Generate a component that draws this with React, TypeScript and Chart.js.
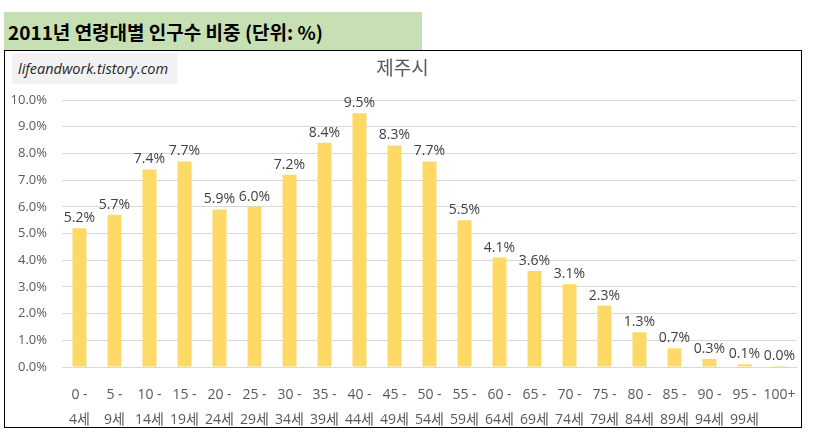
import { useEffect, useRef } from "react"
import { Chart, type ChartConfiguration, type Plugin, registerables } from "chart.js"

Chart.register(...registerables)

const ageGroups: string[][] = [
  ["0 -", "4세"], ["5 -", "9세"], ["10 -", "14세"], ["15 -", "19세"], ["20 -", "24세"],
  ["25 -", "29세"], ["30 -", "34세"], ["35 -", "39세"], ["40 -", "44세"], ["45 -", "49세"],
  ["50 -", "54세"], ["55 -", "59세"], ["60 -", "64세"], ["65 -", "69세"], ["70 -", "74세"],
  ["75 -", "79세"], ["80 -", "84세"], ["85 -", "89세"], ["90 -", "94세"], ["95 -", "99세"],
  ["100+"],
]

const shares = [5.2, 5.7, 7.4, 7.7, 5.9, 6.0, 7.2, 8.4, 9.5, 8.3, 7.7, 5.5, 4.1, 3.6, 3.1, 2.3, 1.3, 0.7, 0.3, 0.1, 0.04]

const FONT = '"Open Sans", "Noto Sans CJK KR", sans-serif'

// value labels above each bar
const barLabels: Plugin<"bar"> = {
  id: "barLabels",
  afterDatasetsDraw(chart) {
    const ctx = chart.ctx
    const meta = chart.getDatasetMeta(0)
    ctx.save()
    ctx.font = `14px ${FONT}`
    ctx.fillStyle = "#404040"
    ctx.textAlign = "center"
    ctx.textBaseline = "middle"
    meta.data.forEach((bar, i) => {
      const v = shares[i]
      ctx.fillText(v.toFixed(1) + "%", bar.x, bar.y - 10)
    })
    ctx.restore()
  },
}

function AgeChart() {
  const chartRef = useRef<HTMLCanvasElement>(null)
  const chartInstance = useRef<Chart | null>(null)

  useEffect(() => {
    if (!chartRef.current) return
    if (chartInstance.current) chartInstance.current.destroy()
    const ctx = chartRef.current.getContext("2d")
    if (!ctx) return

    const config: ChartConfiguration<"bar"> = {
      type: "bar",
      data: {
        labels: ageGroups,
        datasets: [
          {
            data: shares,
            backgroundColor: "#FFD966",
            barPercentage: 0.4,
            categoryPercentage: 1,
          },
        ],
      },
      options: {
        responsive: false,
        animation: false,
        layout: { padding: { left: 8, top: 0, right: 17, bottom: 0 } },
        plugins: {
          legend: { display: false },
          tooltip: { enabled: false },
          title: {
            display: true,
            text: "제주시",
            color: "#595959",
            font: { family: FONT, size: 19, weight: "normal", lineHeight: 1.2 },
            padding: { top: 58.6, bottom: 18.6 },
          },
        },
        scales: {
          x: {
            grid: { display: false },
            border: { display: false },
            ticks: {
              color: "#595959",
              padding: 7.5,
              maxRotation: 0,
              autoSkip: false,
              font: { family: FONT, size: 14, lineHeight: "25px" },
            },
            afterFit: (scale) => {
              scale.height = 72
            },
          },
          y: {
            min: 0,
            max: 10,
            border: { display: false },
            grid: { color: "#D9D9D9", drawTicks: false },
            ticks: {
              stepSize: 1,
              padding: 15,
              color: "#595959",
              font: { family: FONT, size: 13 },
              callback: (v) => Number(v).toFixed(1) + "%",
            },
            afterFit: (scale) => {
              scale.width = 54
            },
          },
        },
      },
      plugins: [barLabels],
    }

    chartInstance.current = new Chart(ctx, config)

    return () => {
      if (chartInstance.current) {
        chartInstance.current.destroy()
        chartInstance.current = null
      }
    }
  }, [])

  return <canvas ref={chartRef} width={814} height={439} style={{ position: "absolute", left: 0, top: 0, width: 814, height: 439 }} />
}

export default function App() {
  return (
    <div style={{ position: "fixed", left: 0, top: 0, width: 814, height: 439, background: "#fff", overflow: "hidden" }}>
      <div
        style={{
          position: "absolute",
          left: 4,
          top: 12,
          width: 418,
          height: 38,
          background: "#C6E0B4",
          fontFamily: '"Noto Sans CJK KR", sans-serif',
          fontWeight: 700,
          fontSize: 19,
          lineHeight: "40px",
          paddingLeft: 4,
          boxSizing: "border-box",
          color: "#000",
          whiteSpace: "nowrap",
        }}
      >
        2011년 연령대별 인구수 비중 (단위: %)
      </div>
      <div
        style={{
          position: "absolute",
          left: 4,
          top: 50,
          width: 798,
          height: 378,
          border: "1.5px solid #000",
          boxSizing: "border-box",
        }}
      />
      <div
        style={{
          position: "absolute",
          left: 12,
          top: 53,
          width: 165,
          height: 31,
          background: "#F2F2F2",
          fontFamily: FONT,
          fontStyle: "italic",
          fontSize: 14.5,
          lineHeight: "31px",
          paddingLeft: 6,
          boxSizing: "border-box",
          color: "#262626",
          whiteSpace: "nowrap",
        }}
      >
        lifeandwork.tistory.com
      </div>
      <AgeChart />
    </div>
  )
}
